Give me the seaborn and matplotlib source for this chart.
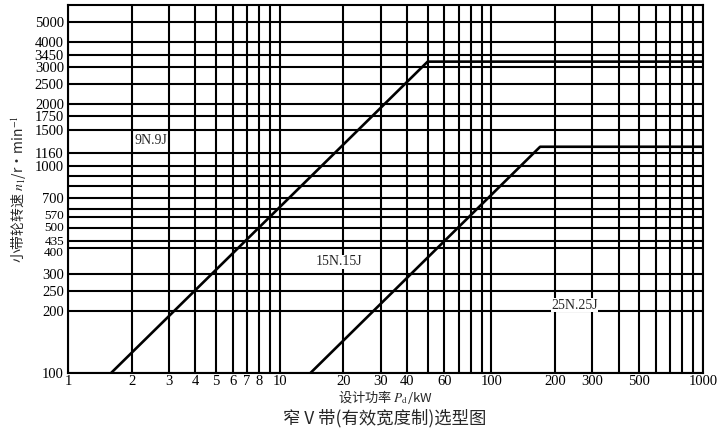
import numpy as np
import pandas as pd
import matplotlib
matplotlib.use("Agg")
import matplotlib.pyplot as plt
import matplotlib.transforms as mtransforms
import seaborn as sns

# ── Data ──────────────────────────────────────────────────────────────────────
# Boundary lines between belt sections (design power P_d [kW] vs. speed n1 [r/min])
b1_power = [1.6, 50, 1000]
b1_speed = [100, 3200, 3200]
b2_power = [14, 170, 1000]
b2_speed = [100, 1240, 1240]

# Grid / tick values
y_grid = [100, 200, 250, 300, 400, 435, 500, 570, 620, 700, 800, 900,
          1000, 1160, 1500, 1750, 2000, 2500, 3000, 3450, 4000, 5000]
y_unlabeled = [620, 800, 900]
x_grid = [k * 10 ** d for d in range(3) for k in range(1, 10)] + [1000]
x_labeled = [1, 2, 3, 4, 5, 6, 7, 8, 10, 20, 30, 40, 60, 100, 200, 300, 500, 1000]

zone_labels = ["9N.9J", "15N.15J", "25N.25J"]
zone_pos = [(2.05, 1330), (14.8, 345), (192, 212)]

# crowded y labels: small vertical nudges in points
y_nudge = {570: 1.5, 500: 1.5, 435: 0.5, 400: -2.5}

# ── Figure ────────────────────────────────────────────────────────────────────
sns.set_theme(style="white")
plt.rcParams["font.family"] = ["Liberation Serif", "Noto Sans CJK SC", "DejaVu Sans"]
plt.rcParams["mathtext.fontset"] = "stix"

fig = plt.figure(figsize=(7.24, 4.33), dpi=100)
ax = fig.add_axes([0.094, 0.139, 0.877, 0.849])

ax.set_xscale("log")
ax.set_yscale("log")
ax.set_xlim(1, 1000)
ax.set_ylim(100, 6000)

for xv in x_grid:
    ax.axvline(xv, color="black", lw=1.5, zorder=1)
for yv in y_grid:
    ax.axhline(yv, color="black", lw=1.5, zorder=1)

lines = pd.concat([
    pd.DataFrame({"P": b1_power, "n": b1_speed, "b": "1"}),
    pd.DataFrame({"P": b2_power, "n": b2_speed, "b": "2"}),
])
sns.lineplot(data=lines, x="P", y="n", units="b", estimator=None,
             color="black", lw=1.9, sort=False, ax=ax, zorder=3)

for txt, (px, py) in zip(zone_labels, zone_pos):
    ax.text(px, py, txt, fontsize=10, ha="left", va="center",
            family="Liberation Serif", zorder=4,
            bbox=dict(facecolor="white", edgecolor="none", pad=0.3))

ax.xaxis.set_minor_locator(matplotlib.ticker.NullLocator())
ax.yaxis.set_minor_locator(matplotlib.ticker.NullLocator())
ax.set_xticks(x_labeled)
ax.set_xticklabels([str(v) for v in x_labeled])
ax.set_yticks(y_grid)
ax.set_yticklabels(["" if v in y_unlabeled else str(v) for v in y_grid])
ax.tick_params(length=0, pad=3, labelsize=10.5, colors="black")
ax.tick_params(axis="x", pad=1.5)

for lbl, v in zip(ax.get_yticklabels(), y_grid):
    if v in y_nudge:
        off = mtransforms.ScaledTranslation(0, y_nudge[v] / 72, fig.dpi_scale_trans)
        lbl.set_transform(lbl.get_transform() + off)
        lbl.set_fontsize(9.5)

for s in ax.spines.values():
    s.set_color("black")
    s.set_linewidth(1.5)

cjk = ["Noto Sans CJK SC", "DejaVu Sans"]
ax.set_xlabel("设计功率 $P_{\\mathrm{d}}$/kW", family=cjk, fontsize=9.5, labelpad=0)
ax.set_ylabel("小带轮转速 $n_1$/r·min$^{-1}$", family=cjk, fontsize=10, labelpad=4)
fig.text(0.532, 0.034, "窄 V 带(有效宽度制)选型图", family=cjk, fontsize=12.5,
         fontweight="medium", ha="center", va="center")

fig.savefig("out.png", dpi=100)
